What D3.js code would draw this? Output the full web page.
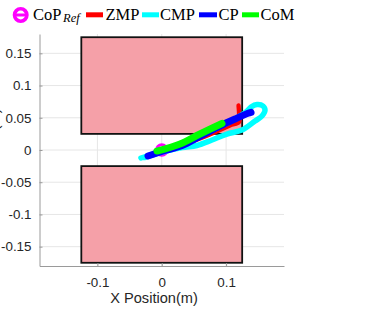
<!DOCTYPE html>
<html>
<head>
<meta charset="utf-8">
<script src="https://cdn.jsdelivr.net/npm/d3@7"></script>
<style>
  html, body { margin: 0; padding: 0; background: #fff; }
  svg { display: block; }
</style>
</head>
<body>
<svg id="chart" width="382" height="310"></svg>
<script>
// ---- data ----
const xTicks = [-0.1, 0, 0.1];
const xTickLabels = ["-0.1", "0", "0.1"];
const yTicks = [-0.15, -0.1, -0.05, 0, 0.05, 0.1, 0.15];
const yTickLabels = ["-0.15", "-0.1", "-0.05", "0", "0.05", "0.1", "0.15"];

// foot support polygons (rectangles): [xmin, xmax, ymin, ymax]
const footLeft  = [-0.125, 0.125, 0.025, 0.175];
const footRight = [-0.125, 0.125, -0.175, -0.025];

const copRefX = [0];
const copRefY = [0];

const zmpX = [-0.0183, 0.0594, 0.1060, 0.1201, 0.1201, 0.1193];
const zmpY = [-0.0093, 0.0178, 0.0380, 0.0435, 0.0574, 0.0691];

const cmpX = [-0.0323, -0.0183, 0.0315, 0.0594, 0.1139, 0.1310, 0.1388, 0.1480, 0.1574, 0.1605, 0.1558, 0.1450, 0.1247, 0.1014, 0.0781, 0.0548, 0.0315, -0.0027, -0.0260];
const cmpY = [-0.0124, -0.0078, 0.0078, 0.0217, 0.0481, 0.0590, 0.0667, 0.0706, 0.0683, 0.0613, 0.0528, 0.0450, 0.0310, 0.0248, 0.0155, 0.0070, 0.0039, -0.0039, -0.0116];

const cpX = [-0.0214, 0.0050, 0.0315, 0.0594, 0.0921, 0.1139, 0.1341, 0.1388];
const cpY = [-0.0093, -0.0008, 0.0070, 0.0213, 0.0380, 0.0481, 0.0570, 0.0585];

const comX = [-0.0074, 0.0284, 0.0594, 0.0936];
const comY = [-0.0016, 0.0093, 0.0248, 0.0411];

const legendLabels = ["CoP", "ZMP", "CMP", "CP", "CoM"];

// ---- drawing ----
const svg = d3.select("#chart");
const x = d3.scaleLinear().domain([-0.19, 0.19]).range([39.5, 284]);
const y = d3.scaleLinear().domain([-0.18, 0.18]).range([266, 34]);

const gridColor = "#e6e6e6";
const axisColor = "#9a9a9a";
const textColor = "#262626";

// grid
const grid = svg.append("g");
grid.selectAll("line.gx").data(xTicks).join("line")
  .attr("x1", d => x(d)).attr("x2", d => x(d))
  .attr("y1", y.range()[1]).attr("y2", y.range()[0])
  .attr("stroke", gridColor).attr("stroke-width", 1);
grid.selectAll("line.gy").data(yTicks).join("line")
  .attr("class", "gy")
  .attr("x1", x.range()[0]).attr("x2", x.range()[1])
  .attr("y1", d => y(d)).attr("y2", d => y(d))
  .attr("stroke", gridColor).attr("stroke-width", 1);

// feet
[footLeft, footRight].forEach(f => {
  svg.append("rect")
    .attr("x", x(f[0])).attr("y", y(f[3]))
    .attr("width", x(f[1]) - x(f[0]))
    .attr("height", y(f[2]) - y(f[3]))
    .attr("fill", "#f5a0a8")
    .attr("stroke", "#111").attr("stroke-width", 1.8);
});

// axes
const xAxis = d3.axisBottom(x).tickValues(xTicks).tickFormat((d, i) => xTickLabels[i])
  .tickSizeInner(-3).tickSizeOuter(0).tickPadding(11);
const gx = svg.append("g").attr("transform", `translate(0,${y.range()[0]})`).call(xAxis);
const yAxis = d3.axisLeft(y).tickValues(yTicks).tickFormat((d, i) => yTickLabels[i])
  .tickSizeInner(-3).tickSizeOuter(0).tickPadding(8);
const gy = svg.append("g").attr("transform", `translate(${x.range()[0]},0)`).call(yAxis);
[gx, gy].forEach(g => {
  g.select(".domain").attr("stroke", axisColor);
  g.selectAll(".tick line").attr("stroke", axisColor);
  g.selectAll(".tick text").attr("fill", textColor)
    .style("font-family", "'Liberation Sans', Arial, sans-serif").style("font-size", "13.4px");
});

// axis labels
svg.append("text").attr("x", 154).attr("y", 303)
  .attr("text-anchor", "middle").attr("fill", textColor)
  .style("font-family", "'Liberation Sans', Arial, sans-serif").style("font-size", "14.6px")
  .text("X Position(m)");
// y label lies almost entirely outside the figure (only a sliver shows, as in the reference)
svg.append("text").attr("transform", "translate(-1.5,152) rotate(-90)")
  .attr("text-anchor", "middle").attr("fill", textColor)
  .style("font-family", "'Liberation Sans', Arial, sans-serif").style("font-size", "14.6px")
  .text("Y Position(m)");

// trajectories
const line = d3.line().x(d => x(d[0])).y(d => y(d[1])).curve(d3.curveCatmullRom.alpha(0.5));
const plot = svg.append("g");

// CoP ref
plot.selectAll("circle.cop").data(d3.zip(copRefX, copRefY)).join("circle")
  .attr("cx", d => x(d[0])).attr("cy", d => y(d[1])).attr("r", 5.3)
  .attr("fill", "none").attr("stroke", "#ff00ff").attr("stroke-width", 3);

function drawPath(xs, ys, color, w) {
  plot.append("path").datum(d3.zip(xs, ys))
    .attr("d", line)
    .attr("fill", "none").attr("stroke", color).attr("stroke-width", w)
    .attr("stroke-linecap", "round").attr("stroke-linejoin", "round");
}
drawPath(zmpX, zmpY, "#ff0000", 4.3);
drawPath(cmpX, cmpY, "#00ffff", 5.5);
drawPath(cpX, cpY, "#0000ff", 7);
drawPath(comX, comY, "#00ff00", 7);

// legend
const lg = svg.append("g");
const serif = "'Liberation Serif', 'Times New Roman', serif";
// CoP_Ref marker
lg.append("circle").attr("cx", 20.7).attr("cy", 15).attr("r", 6.2)
  .attr("fill", "none").attr("stroke", "#ff00ff").attr("stroke-width", 3.6);
lg.append("line").attr("x1", 15).attr("x2", 26.4).attr("y1", 15).attr("y2", 15)
  .attr("stroke", "#ff00ff").attr("stroke-width", 3);
const t0 = lg.append("text").attr("x", 33).attr("y", 19.5).attr("fill", "#000")
  .style("font-family", serif).style("font-size", "16.5px");
t0.append("tspan").text(legendLabels[0]);
t0.append("tspan").attr("x", 63).attr("y", 21.5).style("font-style", "italic").style("font-size", "12.5px").text("Ref");

const swatches = [
  {x0: 86, x1: 103, tx: 105.5, c: "#ff0000", label: legendLabels[1]},
  {x0: 142, x1: 159, tx: 160, c: "#00ffff", label: legendLabels[2]},
  {x0: 199, x1: 217, tx: 218.5, c: "#0000ff", label: legendLabels[3]},
  {x0: 242, x1: 259, tx: 260.5, c: "#00ff00", label: legendLabels[4]}
];
swatches.forEach(s => {
  lg.append("rect").attr("x", s.x0).attr("y", 12.3).attr("width", s.x1 - s.x0).attr("height", 5)
    .attr("fill", s.c);
  lg.append("text").attr("x", s.tx).attr("y", 19.5).attr("fill", "#000")
    .style("font-family", serif).style("font-size", "16.5px").text(s.label);
});
</script>
</body>
</html>
